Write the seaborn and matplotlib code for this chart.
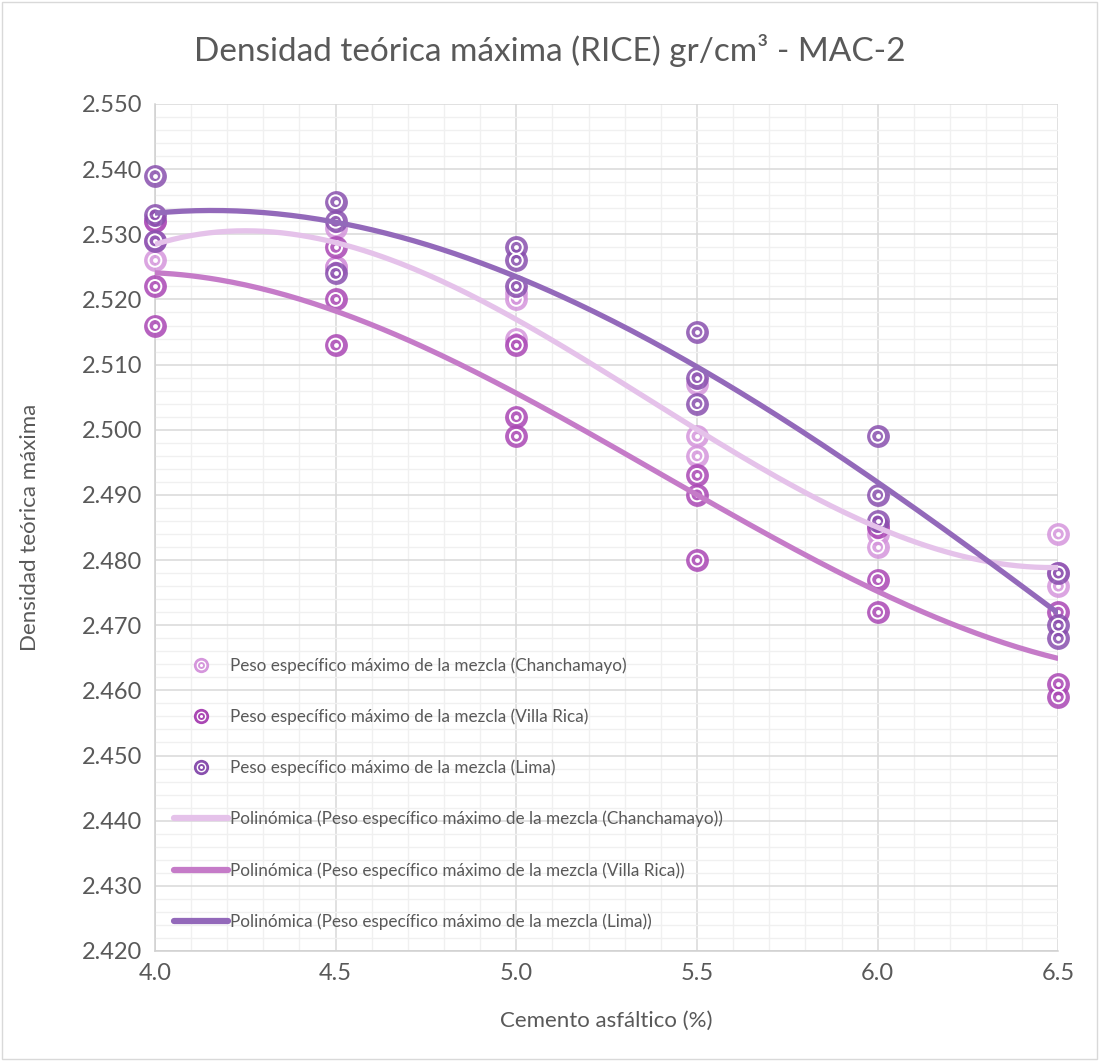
import numpy as np
import pandas as pd
import matplotlib
matplotlib.use("Agg")
import matplotlib.pyplot as plt
from matplotlib.lines import Line2D
from matplotlib.legend_handler import HandlerTuple
from matplotlib.ticker import MultipleLocator, FormatStrFormatter
import seaborn as sns

# Asphalt cement content (%) and three RICE results per content for each source
asfalto = [4.0, 4.0, 4.0, 4.5, 4.5, 4.5, 5.0, 5.0, 5.0,
           5.5, 5.5, 5.5, 6.0, 6.0, 6.0, 6.5, 6.5, 6.5]
chanchamayo = [2.526, 2.529, 2.532, 2.531, 2.525, 2.525, 2.521, 2.520, 2.514,
               2.507, 2.499, 2.496, 2.485, 2.484, 2.482, 2.484, 2.478, 2.476]
villa_rica = [2.532, 2.522, 2.516, 2.528, 2.520, 2.513, 2.513, 2.502, 2.499,
              2.493, 2.490, 2.480, 2.485, 2.477, 2.472, 2.472, 2.461, 2.459]
lima = [2.539, 2.533, 2.529, 2.535, 2.532, 2.524, 2.528, 2.526, 2.522,
        2.515, 2.508, 2.504, 2.499, 2.490, 2.486, 2.478, 2.470, 2.468]

series_names = ["Peso específico máximo de la mezcla (Chanchamayo)",
                "Peso específico máximo de la mezcla (Villa Rica)",
                "Peso específico máximo de la mezcla (Lima)"]
series_values = [chanchamayo, villa_rica, lima]
marker_colors = ["#d596dc", "#aa47b4", "#8950ae"]
line_colors = ["#e5c2ea", "#c57bc8", "#9369ba"]

df = pd.concat([pd.DataFrame({"asfalto": asfalto, "densidad": v, "serie": n})
                for n, v in zip(series_names, series_values)], ignore_index=True)

sns.set_theme(style="white")
plt.rcParams["font.family"] = ["Lato", "DejaVu Sans"]

fig = plt.figure(figsize=(10.99, 10.61), dpi=100)
ax = fig.add_axes([0.141, 0.1037, 0.822, 0.7983])

# Target-style markers: coloured disc, white ring, white centre dot
for i, name in enumerate(series_names):
    sub = df[df["serie"] == name]
    sns.scatterplot(data=sub, x="asfalto", y="densidad", color=marker_colors[i],
                    s=270, linewidth=0, alpha=0.85, ax=ax, zorder=3 + i * 0.1,
                    legend=False, clip_on=False)
    sns.scatterplot(data=sub, x="asfalto", y="densidad", marker="o", s=85,
                    facecolor="none", edgecolor="white", linewidth=1.4,
                    ax=ax, zorder=3.01 + i * 0.1, legend=False, clip_on=False)
    sns.scatterplot(data=sub, x="asfalto", y="densidad", color="white", s=12,
                    linewidth=0, ax=ax, zorder=3.02 + i * 0.1, legend=False,
                    clip_on=False)

# Third-order polynomial trend lines
xs = np.linspace(4.0, 6.5, 200)
for i, name in enumerate(series_names):
    sub = df[df["serie"] == name]
    coef = np.polyfit(sub["asfalto"], sub["densidad"], 3)
    sns.lineplot(x=xs, y=np.polyval(coef, xs), color=line_colors[i], linewidth=3.8,
                 ax=ax, zorder=4 + i * 0.1, solid_capstyle="butt")

ax.set_xlim(4.0, 6.5)
ax.set_ylim(2.420, 2.550)
ax.xaxis.set_major_locator(MultipleLocator(0.5))
ax.xaxis.set_minor_locator(MultipleLocator(0.1))
ax.yaxis.set_major_locator(MultipleLocator(0.010))
ax.yaxis.set_minor_locator(MultipleLocator(0.002))
ax.xaxis.set_major_formatter(FormatStrFormatter("%.1f"))
ax.yaxis.set_major_formatter(FormatStrFormatter("%.3f"))
ax.grid(which="major", color="#d9d9d9", linewidth=1.1)
ax.grid(which="minor", color="#f0f0f0", linewidth=1.0)
ax.set_axisbelow(True)
for side in ["top", "right"]:
    ax.spines[side].set_visible(False)
for side in ["left", "bottom"]:
    ax.spines[side].set_color("#d0d0d0")
    ax.spines[side].set_linewidth(1.1)
ax.tick_params(axis="both", which="both", length=0, labelsize=17,
               labelcolor="#595959", pad=9)

ax.set_xlabel("Cemento asfáltico (%)", fontsize=16, color="#595959", labelpad=19)
ax.set_ylabel("Densidad teórica máxima", fontsize=16, color="#595959", labelpad=30)
fig.suptitle("Densidad teórica máxima (RICE) gr/cm³ - MAC-2", fontsize=24,
             color="#595959", y=0.968)

handles = []
for c in marker_colors:
    handles.append((Line2D([], [], marker="o", ls="", color=c, markersize=11, mew=0),
                    Line2D([], [], marker="o", ls="", mfc="none", mec="white",
                           markersize=6, mew=1.0),
                    Line2D([], [], marker="o", ls="", color="white", markersize=2.2, mew=0)))
for c in line_colors:
    handles.append(Line2D([], [], color=c, linewidth=4.5))
labels = series_names + ["Polinómica (" + n + ")" for n in series_names]

leg = ax.legend(handles, labels, loc="upper left", bbox_to_anchor=(0.013, 0.355),
                frameon=False, fontsize=12.3, labelspacing=2.03, handlelength=3.2,
                handletextpad=0.1, borderaxespad=0,
                handler_map={tuple: HandlerTuple(ndivide=1)})
for t in leg.get_texts():
    t.set_color("#595959")

fig.patches.append(plt.Rectangle((0.002, 0.002), 0.996, 0.996, transform=fig.transFigure,
                                 fill=False, edgecolor="#d9d9d9", linewidth=1))

fig.savefig("out.png", dpi=100)
